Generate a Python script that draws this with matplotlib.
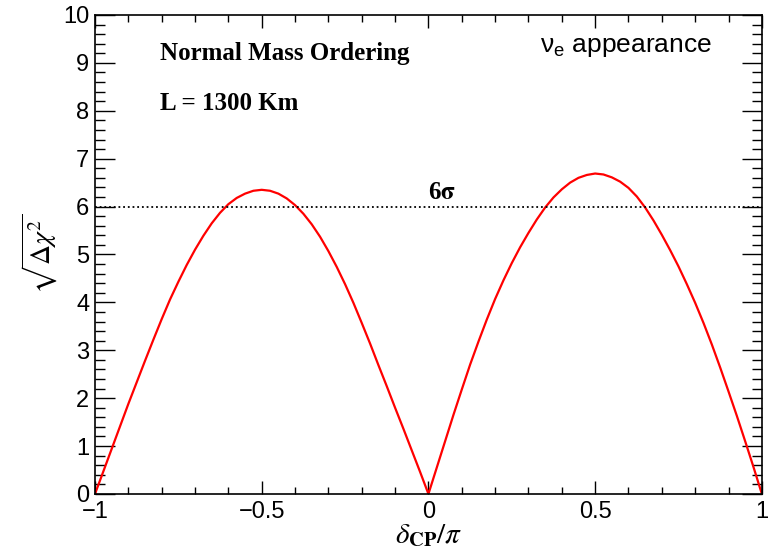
import numpy as np
import matplotlib.pyplot as plt
from matplotlib.ticker import MultipleLocator

# values (sqrt(delta chi^2) vs delta_CP/pi)
dcp = [-1.0, -0.975, -0.95, -0.925, -0.9, -0.875, -0.85, -0.825, -0.8, -0.775,
       -0.75, -0.725, -0.7, -0.675, -0.65, -0.625, -0.6, -0.575, -0.55, -0.525,
       -0.5, -0.475, -0.45, -0.425, -0.4, -0.375, -0.35, -0.325, -0.3, -0.275,
       -0.25, -0.225, -0.2, -0.175, -0.15, -0.125, -0.1, -0.075, -0.05, -0.025,
       0.0, 0.025, 0.05, 0.075, 0.1, 0.125, 0.15, 0.175, 0.2, 0.225,
       0.25, 0.275, 0.3, 0.325, 0.35, 0.375, 0.4, 0.425, 0.45, 0.475,
       0.5, 0.525, 0.55, 0.575, 0.6, 0.625, 0.65, 0.675, 0.7, 0.725,
       0.75, 0.775, 0.8, 0.825, 0.85, 0.875, 0.9, 0.925, 0.95, 0.975, 1.0]
sig = [0.0, 0.47, 0.94, 1.41, 1.88, 2.33, 2.78, 3.22, 3.65, 4.06,
       4.43, 4.78, 5.1, 5.39, 5.65, 5.87, 6.05, 6.18, 6.27, 6.33,
       6.35, 6.33, 6.27, 6.17, 6.03, 5.85, 5.63, 5.37, 5.07, 4.74,
       4.38, 3.99, 3.57, 3.14, 2.69, 2.25, 1.8, 1.36, 0.91, 0.46,
       0.0, 0.55, 1.1, 1.65, 2.18, 2.7, 3.18, 3.64, 4.07, 4.46,
       4.82, 5.15, 5.45, 5.73, 5.98, 6.19, 6.36, 6.5, 6.6, 6.66,
       6.69, 6.67, 6.61, 6.52, 6.39, 6.21, 5.98, 5.71, 5.41, 5.09,
       4.75, 4.38, 3.99, 3.57, 3.12, 2.64, 2.14, 1.63, 1.1, 0.56, 0.0]
level = 6
level_label = r'6$\mathbf{\sigma}$'

plt.rcParams['mathtext.fontset'] = 'stix'
plt.rcParams['font.family'] = 'Liberation Sans'

fig = plt.figure(figsize=(7.68, 5.55), dpi=100)
ax = fig.add_axes([0.1237, 0.110, 0.992 - 0.1237, 0.973 - 0.110])

ax.plot(dcp, sig, color='red', lw=1.6)
ax.axhline(level, color='black', lw=1.3, ls=(0, (1, 1.6)))

ax.set_xlim(-1, 1)
ax.set_ylim(0, 10)
ax.xaxis.set_minor_locator(MultipleLocator(0.1))
ax.yaxis.set_minor_locator(MultipleLocator(0.2))
ax.set_xticks([-1, -0.5, 0, 0.5, 1])
ax.set_xticklabels(['\u22121', '\u22120.5', '0', '0.5', '1'])
ax.set_yticks(range(0, 11))
ax.set_yticklabels([str(i) for i in range(0, 11)])

ax.tick_params(axis='both', which='both', direction='in', top=True, right=True,
               labelsize=17, width=1.0)
ax.tick_params(axis='y', which='major', length=14.4, pad=4)
ax.tick_params(axis='y', which='minor', length=7.2)
ax.tick_params(axis='x', which='major', length=9.6, pad=5)
ax.tick_params(axis='x', which='minor', length=5)
for s in ax.spines.values():
    s.set_linewidth(1.2)

ax.set_xlabel(r'$\delta_{\mathbf{CP}}/\pi$', fontsize=21, labelpad=-1)
ax.set_ylabel(r'$\sqrt{\Delta\chi^2}$', fontsize=20, labelpad=2)

ax.text(0.0975, 0.919, 'Normal Mass Ordering', transform=ax.transAxes,
        family='Liberation Serif', weight='bold', fontsize=18, va='center')
ax.text(0.0975, 0.816, 'L = 1300 Km', transform=ax.transAxes,
        family='Liberation Serif', weight='bold', fontsize=18, va='center')
ax.text(0.667, 0.933, '$\\mathregular{\u03bd_e}$ appearance', transform=ax.transAxes,
        fontsize=19, va='center')
ax.text(0.041, level + 0.29, level_label, family='Liberation Serif', weight='bold',
        fontsize=18, va='center', ha='center')

fig.savefig('out.png', dpi=100)
